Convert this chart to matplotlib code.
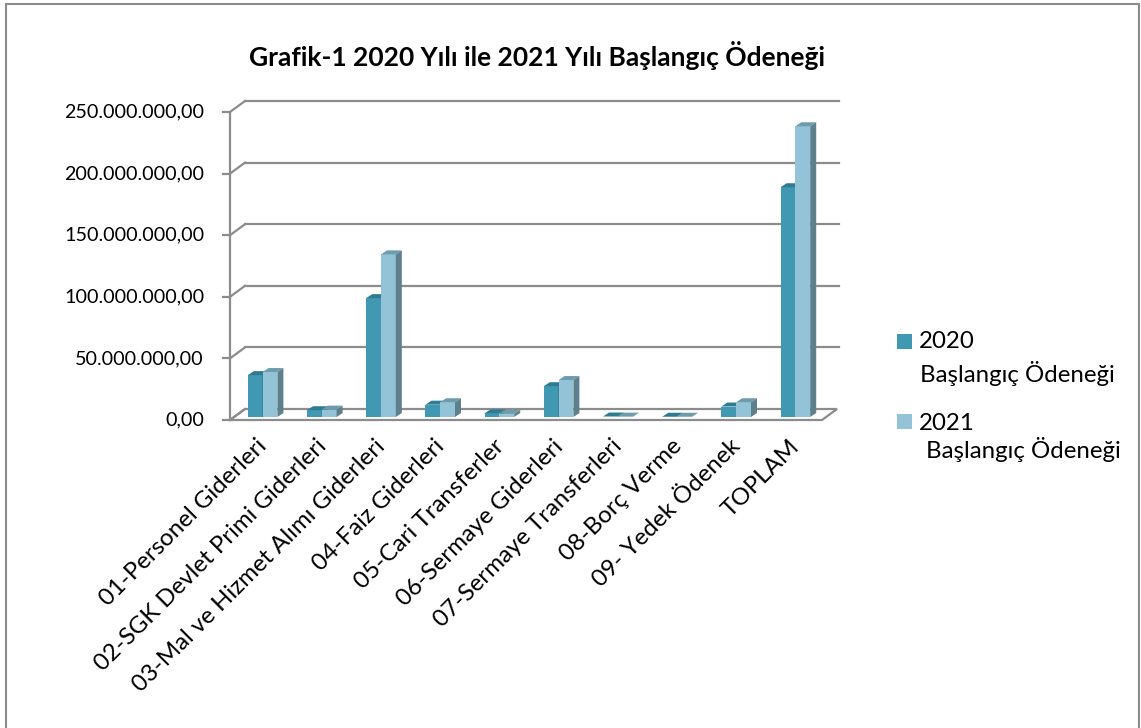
import matplotlib
matplotlib.use("Agg")
import matplotlib.pyplot as plt
from matplotlib.patches import Polygon, Rectangle

plt.rcParams['font.family'] = ['Lato', 'DejaVu Sans']

categories = ["01-Personel Giderleri", "02-SGK Devlet Primi Giderleri",
              "03-Mal ve Hizmet Alımı Giderleri", "04-Faiz Giderleri",
              "05-Cari Transferler", "06-Sermaye Giderleri",
              "07-Sermaye Transferleri", "08-Borç Verme", "09- Yedek Ödenek", "TOPLAM"]
# millions TL
odenek_2020 = [34, 5.5, 96.5, 10, 3, 25, 0.4, 0.2, 8.5, 186.5]
odenek_2021 = [36.5, 6, 132, 12, 2.5, 30, 0.3, 0.2, 12, 236]
yticks = [0, 50, 100, 150, 200, 250]

# colours: front, top, side
c2020 = ('#4198B3', '#2F7C92', '#2D6F82')
c2021 = ('#93C3D6', '#6E9CAC', '#5E7F8C')
grid_col = '#8C8C8C'

W, H = 1141, 728
fig = plt.figure(figsize=(W / 100, H / 100), dpi=100)
ax_l, ax_r, ax_b, ax_t = 230, 822, 420, 112
ax = fig.add_axes([ax_l / W, 1 - ax_b / H, (ax_r - ax_l) / W, (ax_b - ax_t) / H])
n = len(categories)
ax.set_xlim(-0.5, n - 0.5)
ax.set_ylim(0, 250)

# pixel -> data conversion
sx = n / (ax_r - ax_l)
sy = 250 / (ax_b - ax_t)


def off(dx, dy):
    return dx * sx, -dy * sy


wall_dx, wall_dy = off(15, -11)
bar_dx, bar_dy = off(3, -3)
dep_dx, dep_dy = off(6, -4)

# floor
x0, x1 = -0.5, n - 0.5
ax.add_patch(Polygon([(x0, 0), (x1, 0), (x1 + wall_dx, wall_dy), (x0 + wall_dx, wall_dy)],
                     closed=True, facecolor='white', edgecolor=grid_col, lw=1.6, zorder=1,
                     clip_on=False))
# gridlines on back wall and left wall
for v in yticks:
    if v > 0:
        ax.plot([x0 + wall_dx, x1 + wall_dx + off(2, 0)[0]], [v + wall_dy, v + wall_dy],
                color=grid_col, lw=1.6, zorder=1, clip_on=False)
    ax.plot([x0, x0 + wall_dx], [v, v + wall_dy], color=grid_col, lw=1.6, zorder=1, clip_on=False)
    ax.plot([x0 - off(7, 0)[0], x0], [v, v], color=grid_col, lw=1.6, zorder=1, clip_on=False)
ax.plot([x0, x0], [0, 250], color=grid_col, lw=1.6, zorder=1, clip_on=False)

bw = 0.25


def draw_bar(xl, h, cols, z):
    xl = xl + bar_dx
    yb = bar_dy
    yt = h + bar_dy
    xr = xl + bw
    ax.add_patch(Polygon([(xl, yb), (xr, yb), (xr, yt), (xl, yt)], closed=True,
                         facecolor=cols[0], edgecolor='none', zorder=z, clip_on=False))
    ax.add_patch(Polygon([(xl, yt), (xr, yt), (xr + dep_dx, yt + dep_dy), (xl + dep_dx, yt + dep_dy)],
                         closed=True, facecolor=cols[1], edgecolor='none', zorder=z, clip_on=False))
    ax.add_patch(Polygon([(xr, yb), (xr + dep_dx, yb + dep_dy), (xr + dep_dx, yt + dep_dy), (xr, yt)],
                         closed=True, facecolor=cols[2], edgecolor='none', zorder=z, clip_on=False))


for i in range(n):
    draw_bar(i - bw, odenek_2020[i], c2020, 3 + 2 * i)
    draw_bar(i, odenek_2021[i], c2021, 4 + 2 * i)

for s in ax.spines.values():
    s.set_visible(False)
ax.set_xticks([])
ax.set_yticks([])


def fmt(v):
    s = f"{v * 1e6:,.2f}"
    return s.replace(',', '#').replace('.', ',').replace('#', '.')


for v in yticks:
    ax.text(x0 - off(26, 0)[0], v, fmt(v), ha='right', va='center', fontsize=14.2, color='black')

for i, c in enumerate(categories):
    ax.text(i + off(4, 0)[0], off(0, 23)[1], c, rotation=45, ha='right', va='center',
            rotation_mode='anchor', fontsize=17.3, color='black', clip_on=False)

fig.text(537 / W, 1 - 56 / H, "Grafik-1 2020 Yılı ile 2021 Yılı Başlangıç Ödeneği",
         ha='center', va='center', fontsize=19, fontweight='bold')

# legend
fig.patches.append(Rectangle((897 / W, 1 - 349 / H), 15 / W, 15 / H, transform=fig.transFigure,
                             facecolor=c2020[0], edgecolor='none'))
fig.patches.append(Rectangle((897 / W, 1 - 429 / H), 15 / W, 15 / H, transform=fig.transFigure,
                             facecolor=c2021[0], edgecolor='none'))
fig.text(919 / W, 1 - 348 / H, "2020", ha='left', va='baseline', fontsize=17.3)
fig.text(920 / W, 1 - 382 / H, "Başlangıç Ödeneği", ha='left', va='baseline', fontsize=17.3)
fig.text(919 / W, 1 - 430 / H, "2021", ha='left', va='baseline', fontsize=17.3)
fig.text(926 / W, 1 - 458 / H, "Başlangıç Ödeneği", ha='left', va='baseline', fontsize=17.3)

# outer chart border
fig.patches.append(Rectangle((6 / W, -0.05), 1133 / W, 1 - 4 / H + 0.05, transform=fig.transFigure,
                             facecolor='none', edgecolor='#8C8C8C', lw=1.5))

fig.savefig("out.png", dpi=100)
